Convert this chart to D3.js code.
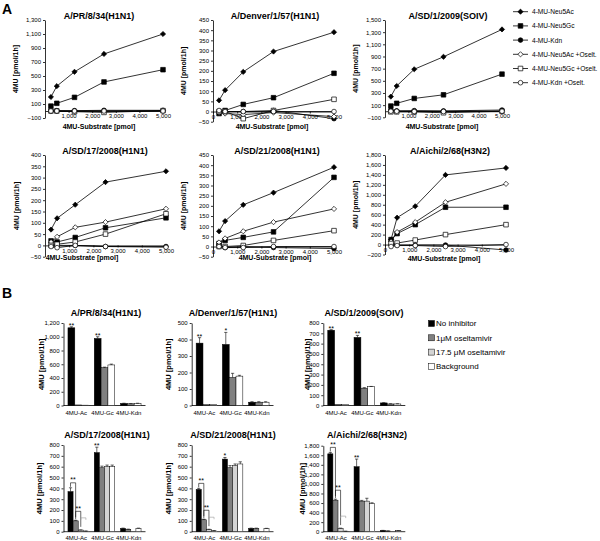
<html>
<head>
<meta charset="utf-8" />
<script src="https://cdnjs.cloudflare.com/ajax/libs/d3/7.8.5/d3.min.js"></script>
<style>
  body { margin: 0; background: #fff; }
  svg { font-family: "Liberation Sans", Arial, sans-serif; }
  .axis path, .axis line { stroke: #000; stroke-width: 0.8; }
</style>
</head>
<body>
<svg width="600" height="541"></svg>
<script>
// ---- panel A: substrate titration ----
const substrate = [250, 500, 1250, 2500, 5000];
const lineSeries = ["4-MU-Neu5Ac", "4-MU-Neu5Gc", "4-MU-Kdn",
  "4-MU-Neu5Ac +Oselt.", "4-MU-Neu5Gc +Oselt.", "4-MU-Kdn +Oselt."];
const strains = ["A/PR/8/34(H1N1)", "A/Denver/1/57(H1N1)", "A/SD/1/2009(SOIV)",
  "A/SD/17/2008(H1N1)", "A/SD/21/2008(H1N1)", "A/Aichi/2/68(H3N2)"];

const prLines = [
  [200, 355, 560, 815, 1100],
  [70, 110, 195, 415, 590],
  [10, 5, 5, 10, 10],
  [0, 0, 0, 0, 5],
  [0, 0, -10, -20, 5],
  [0, 0, 0, 0, 0]];
const denverLines = [
  [55, 105, 195, 295, 390],
  [-10, 5, 35, 68, 188],
  [0, 0, 0, 5, -35],
  [-5, -10, -15, -5, -25],
  [0, 0, -35, 5, 60],
  [5, 0, 0, 0, 0]];
const soivLines = [
  [240, 415, 690, 895, 1345],
  [85, 130, 210, 270, 610],
  [20, 5, 10, 5, 20],
  [0, 0, 0, 0, 0],
  [-10, -10, -10, -25, 0],
  [0, 0, -5, -5, 0]];
const sd17Lines = [
  [70, 120, 180, 280, 328],
  [20, 15, 35, 78, 122],
  [0, 0, 0, -5, -5],
  [15, 38, 80, 103, 162],
  [0, 5, 15, 50, 140],
  [-5, -10, 0, -5, -8]];
const sd21Lines = [
  [75, 125, 205, 265, 390],
  [15, 30, 45, 72, 340],
  [10, -5, 0, -5, -10],
  [20, 40, 75, 120, 185],
  [0, 0, 5, 30, 78],
  [0, -5, -5, 0, 0]];
const aichiLines = [
  [100, 540, 770, 1400, 1540],
  [100, 220, 400, 750, 750],
  [0, -10, -10, -10, -110],
  [60, 250, 450, 850, 1220],
  [20, 30, 90, 200, 400],
  [-40, -20, -20, -40, 0]];

// ---- panel B: inhibition ----
const barCategories = ["4MU-Ac", "4MU-Gc", "4MU-Kdn"];
const inhibitors = ["No inhibitor", "1\u03bcM oseltamivir", "17.5 \u03bcM oseltamivir", "Background"];
const row1Inhib = ["No inhibitor", "1\u03bcM oseltamivir", "Background"];

const prBars = [[1130, 8, 5], [975, 550, 590], [30, 25, 30]];
const prErr = [[15, 0, 0], [25, 8, 12], [3, 2, 3]];
const prStars = ["**", "**", ""];
const denverBars = [[378, 5, 5], [370, 170, 178], [20, 20, 20]];
const denverErr = [[33, 0, 0], [73, 25, 5], [3, 3, 3]];
const denverStars = ["**", "*", ""];
const soivBars = [[730, 10, 10], [660, 168, 182], [25, 15, 15]];
const soivErr = [[5, 0, 0], [20, 5, 3], [2, 2, 2]];
const soivStars = ["**", "**", ""];
const sd17Bars = [[370, 100, 15, 5], [730, 590, 600, 600], [30, 22, 0, 30]];
const sd17Err = [[35, 5, 2, 2], [50, 15, 15, 15], [3, 2, 0, 3]];
const sd17Stars = ["", "**", ""];
const sd21Bars = [[390, 110, 20, 8], [670, 590, 610, 625], [30, 30, 0, 28]];
const sd21Err = [[10, 5, 3, 2], [15, 20, 15, 20], [3, 3, 0, 3]];
const sd21Stars = ["", "*", ""];
const aichiBars = [[1630, 660, 70, 10], [1360, 640, 640, 590], [25, 15, 0, 20]];
const aichiErr = [[30, 20, 5, 2], [160, 15, 60, 15], [3, 2, 0, 3]];
const aichiStars = ["", "**", ""];

const svg = d3.select("svg");
const fmt = d3.format(",");

// marker shapes
function markerPath(i) {
  const k = i % 3;
  if (k == 0) return "M0,-2.6L2.6,0L0,2.6L-2.6,0Z";
  if (k == 1) return "M-2.3,-2.3H2.3V2.3H-2.3Z";
  return d3.symbol().type(d3.symbolCircle).size(17)();
}

function linePanel(p, title, lines) {
  const x = d3.scaleLinear().domain([0, 5000]).range(p.x);
  const y = d3.scaleLinear().domain(p.dom).range(p.y);
  const g = svg.append("g");

  g.append("g").attr("class", "axis")
    .attr("transform", `translate(${p.x[0]},0)`)
    .call(d3.axisLeft(y).tickValues(d3.range(p.dom[0], p.dom[1] + 1, p.step))
      .tickSize(2).tickSizeOuter(0).tickPadding(2).tickFormat(fmt))
    .selectAll("text").style("font-size", "6px");

  g.append("g").attr("class", "axis")
    .attr("transform", `translate(0,${y(0)})`)
    .call(d3.axisBottom(x).tickValues(p.xt).tickSize(2).tickSizeOuter(0).tickPadding(1).tickFormat(fmt))
    .selectAll("text").style("font-size", "6px");

  const line = d3.line().x((d, i) => x(substrate[i])).y((d) => y(d));
  lines.forEach((vals, s) => {
    g.append("path").attr("d", line(vals))
      .attr("fill", "none").attr("stroke", "#000").attr("stroke-width", 0.8);
    g.selectAll(null).data(vals).enter().append("path")
      .attr("d", markerPath(s))
      .attr("transform", (d, i) => `translate(${x(substrate[i])},${y(d)})`)
      .attr("fill", s < 3 ? "#000" : "#fff")
      .attr("stroke", "#000").attr("stroke-width", 0.7);
  });

  g.append("text").attr("x", p.title).attr("y", p.ty)
    .attr("text-anchor", "middle").style("font-size", "9px").style("font-weight", "bold")
    .text(title);
  g.append("text").attr("x", p.xtitle).attr("y", p.xty)
    .attr("text-anchor", "middle").style("font-size", "7px").style("font-weight", "bold")
    .text("4MU-Substrate [pmol]");
  g.append("text")
    .attr("transform", `translate(${p.ylab},${(p.y[0] + p.y[1]) / 2}) rotate(-90)`)
    .attr("text-anchor", "middle").style("font-size", "7px").style("font-weight", "bold")
    .text("4MU [pmol/1h]");
}

const xt1 = [1000, 2000, 3000, 4000, 5000];
const xt0 = [0, 1000, 2000, 3000, 4000, 5000];
const lineLayout = [
  { x: [45, 163], y: [118, 20], dom: [-100, 1300], step: 200, xt: xt1, title: 99, ty: 19, xtitle: 99, xty: 129, ylab: 18 },
  { x: [213, 334], y: [121.7, 20], dom: [-50, 450], step: 50, xt: xt0, title: 275, ty: 19, xtitle: 272, xty: 129, ylab: 186 },
  { x: [385, 502], y: [117.3, 20], dom: [-100, 1500], step: 200, xt: xt1, title: 448, ty: 19, xtitle: 442, xty: 129, ylab: 358 },
  { x: [45, 166], y: [256.7, 155], dom: [-50, 400], step: 50, xt: xt1, title: 105, ty: 153.5, xtitle: 82, xty: 260, ylab: 19 },
  { x: [213, 334], y: [256.7, 155], dom: [-50, 450], step: 50, xt: xt0, title: 277, ty: 153.5, xtitle: 275, xty: 260, ylab: 186 },
  { x: [385, 506], y: [254.5, 155], dom: [-200, 1800], step: 200, xt: xt0, title: 450, ty: 153.5, xtitle: 444, xty: 261, ylab: 358 }];

[prLines, denverLines, soivLines, sd17Lines, sd21Lines, aichiLines]
  .forEach((l, i) => linePanel(lineLayout[i], strains[i], l));

// line legend
const lg = svg.append("g");
lineSeries.forEach((name, s) => {
  const yy = 11.7 + s * 14.2;
  lg.append("line").attr("x1", 513).attr("x2", 528).attr("y1", yy).attr("y2", yy)
    .attr("stroke", "#000").attr("stroke-width", 0.8);
  lg.append("path").attr("d", markerPath(s)).attr("transform", `translate(520.5,${yy})`)
    .attr("fill", s < 3 ? "#000" : "#fff").attr("stroke", "#000").attr("stroke-width", 0.7);
  lg.append("text").attr("x", 532).attr("y", yy + 2.4).style("font-size", "6.6px").text(name);
});

// ---- bars ----
const barColor = { "No inhibitor": "#000", "1\u03bcM oseltamivir": "#808080",
  "17.5 \u03bcM oseltamivir": "#d4d4d4", "Background": "#fff" };

function barPanel(p, title, series, vals, errs, stars, brackets) {
  const x0 = d3.scaleBand().domain(barCategories).range(p.x).paddingInner(0.22).paddingOuter(0.17);
  const x1 = d3.scaleBand().domain(series).range([0, x0.bandwidth()]);
  const y = d3.scaleLinear().domain([0, p.max]).range(p.y);
  const g = svg.append("g");

  g.append("g").attr("class", "axis")
    .attr("transform", `translate(${p.x[0]},0)`)
    .call(d3.axisLeft(y).tickValues(d3.range(0, p.max + 1, p.step))
      .tickSize(2).tickSizeOuter(0).tickPadding(2).tickFormat(fmt))
    .selectAll("text").style("font-size", "6px");

  g.append("line").attr("x1", p.x[0]).attr("x2", p.x[1]).attr("y1", y(0)).attr("y2", y(0))
    .attr("stroke", "#000").attr("stroke-width", 0.8);

  barCategories.forEach((c, ci) => {
    series.forEach((s, si) => {
      const v = vals[ci][si], e = errs[ci][si];
      if (v <= 0) return;
      const bx = x0(c) + x1(s);
      g.append("rect").attr("x", bx).attr("y", y(v))
        .attr("width", x1.bandwidth()).attr("height", y(0) - y(v))
        .attr("fill", barColor[s]).attr("stroke", "#000").attr("stroke-width", 0.5);
      if (e > 0) {
        const cx = bx + x1.bandwidth() / 2;
        g.append("path")
          .attr("d", `M${cx},${y(v)}V${y(v + e)}M${cx - 1.6},${y(v + e)}H${cx + 1.6}`)
          .attr("stroke", "#000").attr("stroke-width", 0.6).attr("fill", "none");
      }
    });
    if (stars[ci]) {
      const cx = x0(c) + x1(series[0]) + x1.bandwidth() / 2;
      g.append("text").attr("x", cx).attr("y", y(vals[ci][0] + errs[ci][0]) + 1)
        .attr("text-anchor", "middle").style("font-size", "7px").text(stars[ci]);
    }
    g.append("text").attr("x", x0(c) + x0.bandwidth() / 2 - 2).attr("y", p.ly)
      .attr("text-anchor", "middle").style("font-size", "6px").text(c);
  });

  if (brackets) {
    // significance brackets inside the 4MU-Ac group
    const c = barCategories[0];
    const cxOf = (si) => x0(c) + x1(series[si]) + x1.bandwidth() / 2;
    const topOf = (si) => y(vals[0][si] + errs[0][si]);
    const pairs = [[0, 1, "**", "#000"], [1, 2, "**", "#000"], [2, 3, "", "#999"]];
    pairs.forEach(([a, b, lab, col], k) => {
      const top = k == 0 ? topOf(a) - 5 : topOf(a) - 9;
      const yt = k == 2 ? topOf(a) - 12 : top;
      g.append("path")
        .attr("d", `M${cxOf(a)},${k == 2 ? yt + 2 : topOf(a) - 1}V${yt}H${cxOf(b)}V${k == 2 ? yt + 2 : topOf(b) - 3}`)
        .attr("fill", "none").attr("stroke", col).attr("stroke-width", 0.6);
      if (lab) g.append("text").attr("x", (cxOf(a) + cxOf(b)) / 2).attr("y", yt - 0.5)
        .attr("text-anchor", "middle").style("font-size", "7px").text(lab);
    });
  }

  g.append("text").attr("x", p.title).attr("y", p.ty)
    .attr("text-anchor", "middle").style("font-size", "9px").style("font-weight", "bold")
    .text(title);
  g.append("text")
    .attr("transform", `translate(${p.ylab},${(p.y[0] + p.y[1]) / 2}) rotate(-90)`)
    .attr("text-anchor", "middle").style("font-size", "7.5px").style("font-weight", "bold")
    .text("4MU [pmol/1h]");
}

const barLayout = [
  { x: [63.5, 145.5], y: [405.5, 323], max: 1200, step: 200, title: 106, ty: 316, ly: 415, ylab: 44 },
  { x: [191.7, 273.5], y: [405.5, 323], max: 500, step: 100, title: 233, ty: 316, ly: 415, ylab: 171 },
  { x: [323.3, 405.3], y: [405.5, 323], max: 800, step: 100, title: 364, ty: 316, ly: 415, ylab: 310 },
  { x: [63.5, 145.5], y: [531.7, 445], max: 800, step: 100, title: 107, ty: 438, ly: 539.5, ylab: 42 },
  { x: [191.7, 273.5], y: [531.7, 445], max: 800, step: 100, title: 233, ty: 438, ly: 539.5, ylab: 171 },
  { x: [323.3, 405.3], y: [531.7, 445.7], max: 1800, step: 200, title: 367, ty: 438, ly: 539.5, ylab: 305 }];

barPanel(barLayout[0], strains[0], row1Inhib, prBars, prErr, prStars, false);
barPanel(barLayout[1], strains[1], row1Inhib, denverBars, denverErr, denverStars, false);
barPanel(barLayout[2], strains[2], row1Inhib, soivBars, soivErr, soivStars, false);
barPanel(barLayout[3], strains[3], inhibitors, sd17Bars, sd17Err, sd17Stars, true);
barPanel(barLayout[4], strains[4], inhibitors, sd21Bars, sd21Err, sd21Stars, true);
barPanel(barLayout[5], strains[5], inhibitors, aichiBars, aichiErr, aichiStars, true);

// bar legend
inhibitors.forEach((name, i) => {
  const yy = 323.5 + i * 14.3;
  svg.append("rect").attr("x", 428.5).attr("y", yy - 3).attr("width", 6).attr("height", 6)
    .attr("fill", barColor[name]).attr("stroke", "#000").attr("stroke-width", 0.5);
  svg.append("text").attr("x", 436).attr("y", yy + 2.8).style("font-size", "8px").text(name);
});

// panel letters
svg.append("text").attr("x", 2).attr("y", 14).style("font-size", "14px").style("font-weight", "bold").text("A");
svg.append("text").attr("x", 2).attr("y", 298).style("font-size", "14px").style("font-weight", "bold").text("B");
</script>
</body>
</html>
